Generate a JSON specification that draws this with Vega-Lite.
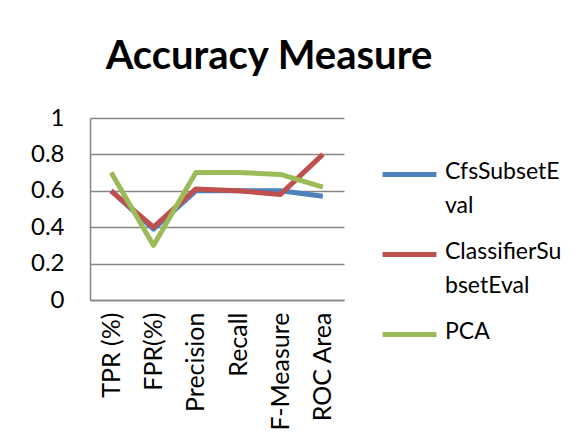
{
  "$schema": "https://vega.github.io/schema/vega-lite/v6.json",
  "autosize": "none",
  "width": 254,
  "height": 182,
  "padding": {"left": 90, "top": 118, "right": 242, "bottom": 148},
  "background": "white",
  "title": {
    "text": "Accuracy Measure",
    "font": "Lato",
    "fontSize": 40,
    "fontWeight": "bold",
    "color": "black",
    "anchor": "middle",
    "frame": "group",
    "dx": 52,
    "offset": 29
  },
  "data": {
    "values": [
      {"measure": "TPR (%)", "method": "CfsSubsetEval", "value": 0.6},
      {"measure": "FPR(%)", "method": "CfsSubsetEval", "value": 0.39},
      {"measure": "Precision", "method": "CfsSubsetEval", "value": 0.6},
      {"measure": "Recall", "method": "CfsSubsetEval", "value": 0.6},
      {"measure": "F-Measure", "method": "CfsSubsetEval", "value": 0.6},
      {"measure": "ROC Area", "method": "CfsSubsetEval", "value": 0.57},
      {"measure": "TPR (%)", "method": "ClassifierSubsetEval", "value": 0.6},
      {"measure": "FPR(%)", "method": "ClassifierSubsetEval", "value": 0.4},
      {"measure": "Precision", "method": "ClassifierSubsetEval", "value": 0.61},
      {"measure": "Recall", "method": "ClassifierSubsetEval", "value": 0.6},
      {"measure": "F-Measure", "method": "ClassifierSubsetEval", "value": 0.58},
      {"measure": "ROC Area", "method": "ClassifierSubsetEval", "value": 0.8},
      {"measure": "TPR (%)", "method": "PCA", "value": 0.7},
      {"measure": "FPR(%)", "method": "PCA", "value": 0.3},
      {"measure": "Precision", "method": "PCA", "value": 0.7},
      {"measure": "Recall", "method": "PCA", "value": 0.7},
      {"measure": "F-Measure", "method": "PCA", "value": 0.69},
      {"measure": "ROC Area", "method": "PCA", "value": 0.62}
    ]
  },
  "mark": {"type": "line", "strokeWidth": 5, "strokeJoin": "round"},
  "encoding": {
    "x": {
      "field": "measure",
      "type": "ordinal",
      "sort": ["TPR (%)", "FPR(%)", "Precision", "Recall", "F-Measure", "ROC Area"],
      "scale": {"type": "point", "padding": 0.5},
      "axis": {
        "title": null,
        "labelAngle": -90,
        "labelFont": "Lato",
        "labelFontSize": 25,
        "labelColor": "black",
        "labelPadding": 12,
        "ticks": false,
        "domainColor": "#868686",
        "domainWidth": 1.5,
        "grid": false
      }
    },
    "y": {
      "field": "value",
      "type": "quantitative",
      "scale": {"domain": [0, 1]},
      "axis": {
        "title": null,
        "values": [0, 0.2, 0.4, 0.6, 0.8, 1],
        "format": "~g",
        "labelFont": "Lato",
        "labelFontSize": 24,
        "labelColor": "black",
        "labelPadding": 26,
        "ticks": false,
        "domainColor": "#868686",
        "domainWidth": 1.5,
        "gridColor": "#868686",
        "gridWidth": 1.5
      }
    },
    "color": {
      "field": "method",
      "type": "nominal",
      "scale": {
        "domain": ["CfsSubsetEval", "ClassifierSubsetEval", "PCA"],
        "range": ["#4F81BD", "#C0504D", "#9BBB59"]
      },
      "legend": {
        "title": null,
        "orient": "none",
        "legendX": 290,
        "legendY": 27,
        "symbolType": "stroke",
        "symbolSize": 2900,
        "symbolStrokeWidth": 5,
        "labelFont": "Lato",
        "labelFontSize": 23,
        "labelColor": "black",
        "labelOffset": 6,
        "labelBaseline": "top",
        "labelLimit": 300,
        "rowPadding": 7,
        "labelExpr": "datum.label == 'CfsSubsetEval' ? ['CfsSubsetE', 'val'] : datum.label == 'ClassifierSubsetEval' ? ['ClassifierSu', 'bsetEval'] : datum.label",
        "encode": {
          "labels": {"update": {"dy": {"value": -14}, "lineHeight": {"value": 34}}}
        }
      }
    }
  },
  "config": {"view": {"stroke": null}}
}
